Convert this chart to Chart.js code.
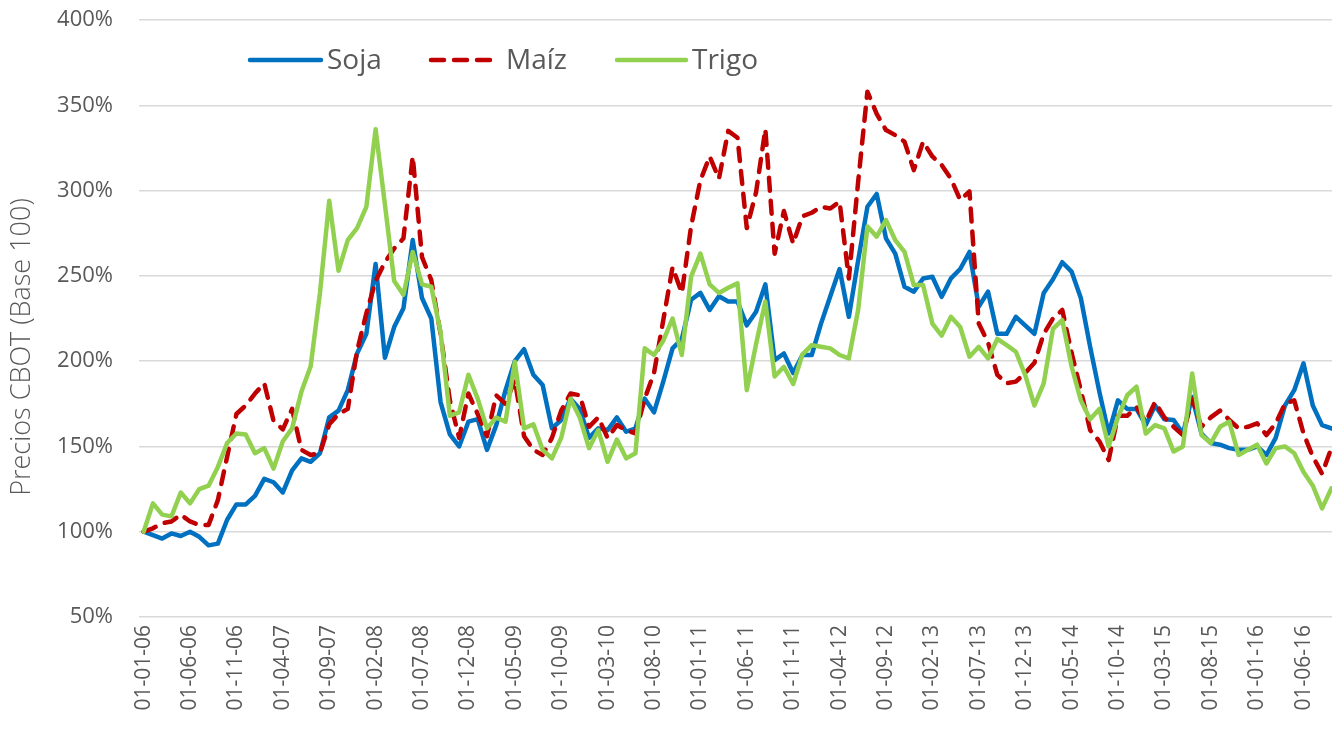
<!DOCTYPE html>
<html>
<head>
<meta charset="utf-8">
<script src="https://cdn.jsdelivr.net/npm/chart.js@4.4.0/dist/chart.umd.min.js"></script>
<style>
  html, body { margin: 0; padding: 0; overflow: hidden; background: #fff; }
  #wrap { position: relative; width: 1340px; height: 733px; }
  #legend { position: absolute; left: 0; top: 0; }
  #legend text { font-family: "Open Sans", sans-serif; font-size: 28px; fill: #595959; }
</style>
</head>
<body>
<div id="wrap">
  <canvas id="chart" width="1340" height="733"></canvas>
  <svg id="legend" width="800" height="100">
    <line x1="250" y1="60" x2="321" y2="60" stroke="#0070C0" stroke-width="4.5" stroke-linecap="round"/>
    <text x="327" y="69">Soja</text>
    <line x1="431" y1="60" x2="492" y2="60" stroke="#C00000" stroke-width="4.5" stroke-linecap="round" stroke-dasharray="13 10"/>
    <text x="506" y="69">Maíz</text>
    <line x1="617" y1="60" x2="686" y2="60" stroke="#92D050" stroke-width="4.5" stroke-linecap="round"/>
    <text x="692" y="69">Trigo</text>
  </svg>
</div>
<script>
// precios CBOT, base 100 = enero 2006, datos mensuales
const soja = [100, 98, 96, 99, 97.5, 100, 97, 92, 93, 107, 116, 116, 121, 131, 129, 123, 136, 143, 141, 146,
  167, 171, 183, 204.5, 216, 257, 202, 220, 231, 271, 237, 225, 176, 157, 150, 164.5, 166, 148, 162.5, 183,
  200, 207, 192, 186, 160.6, 165.5, 178, 172, 155, 160.6, 159.6, 167, 158.6, 160.6, 178, 170, 188, 207.5, 213, 236,
  240, 230, 238, 235, 235, 221, 229, 245, 200.6, 204.5, 193, 203.6, 203.6, 222, 238, 254, 226, 259, 290.5, 298,
  272, 263, 243.6, 240.7, 248.5, 249.5, 237.7, 248.5, 254, 264, 232, 240.7, 216, 216, 226, 221, 216, 240, 248, 258,
  252.5, 237, 208.5, 182, 157.6, 177, 172, 172, 162.5, 174, 166, 165.5, 157.6, 179, 157.6, 152, 151, 149, 148, 148,
  150, 145, 155, 174, 183, 198.7, 174, 162.5, 160.6];

const maiz = [100, 102, 105, 106, 110, 106, 104, 104, 118.5, 144, 169, 174, 181, 187, 165, 160, 172, 148, 145, 146,
  163, 169, 172, 206, 228, 247, 258, 266, 272, 320, 261, 247.5, 216, 177, 155, 181, 169, 156, 180, 175,
  189, 156, 148, 145, 155, 171, 181, 180, 161.5, 167, 155, 162.5, 159.6, 157.6, 178, 193, 224, 255, 240, 279,
  306, 320, 307, 335, 331, 278, 299, 336, 263, 288, 269, 285, 287, 290.5, 289.5, 293.5, 248.5, 305, 358, 345,
  335.5, 332.5, 328.6, 312, 328.6, 320, 315, 307, 294.5, 299.5, 222, 211, 192, 187, 188, 193, 199, 216, 225, 230,
  205, 183, 159.6, 153, 142, 168, 168, 173, 164.5, 176, 167, 161.5, 156.7, 178, 161.5, 167, 171, 165.5, 160.6, 161.5,
  163.5, 156.7, 163.5, 175, 177, 157.6, 144, 134, 149];

const trigo = [100, 116.6, 110, 109, 123, 116.6, 125, 127, 138, 152, 157.6, 157, 146, 149, 137, 153, 160.6, 182, 197, 240,
  294, 253, 271, 278, 290.5, 336, 292, 247, 239, 264, 245, 243.6, 217, 168, 170, 192, 178, 160.6, 167, 164.5,
  199.6, 160.6, 163, 148, 143, 155, 178, 167, 149, 159.6, 141, 154, 143, 146, 207.5, 203.6, 212, 225, 203.6, 249.5,
  263, 245, 240, 243, 245.6, 183, 210, 235, 191, 196.7, 186.6, 204, 209.4, 208.4, 207.5, 203.6, 201.6, 230, 279, 273,
  282.7, 271, 264, 244.6, 244.6, 222, 215, 226, 220, 202.6, 208.4, 201.6, 213, 209.4, 205.5, 192, 174, 187, 219, 224,
  197, 177, 166, 172, 150, 167, 180, 185, 157.6, 162.5, 160.6, 147, 150, 192.8, 156.7, 152, 161.5, 164.5, 145, 148,
  151, 140, 149, 150, 146, 135, 127, 113.7, 125.4];

// fechas dd-mm-aa, una por mes desde enero 2006
const fechas = [];
for (let i = 0; i < soja.length; i++) {
  const mes = String(i % 12 + 1).padStart(2, '0');
  const anio = String(6 + Math.floor(i / 12)).padStart(2, '0');
  fechas.push('01-' + mes + '-' + anio);
}

const yTicks = [50, 100, 150, 200, 250, 300, 350, 400];
const tituloEjeY = 'Precios CBOT (Base 100)';

const tituloY = {
  id: 'tituloY',
  afterDraw(chart) {
    const c = chart.ctx;
    c.save();
    c.translate(22, 347);
    c.rotate(-Math.PI / 2);
    c.font = '300 27px "Open Sans"';
    c.fillStyle = '#595959';
    c.textAlign = 'center';
    c.textBaseline = 'middle';
    c.fillText(tituloEjeY, 0, 0);
    c.restore();
  }
};

const CHART = document.getElementById('chart');
let lineChart = new Chart(CHART, {
  type: 'line',
  data: {
    labels: fechas,
    datasets: [
      {
        label: 'Soja',
        data: soja,
        borderColor: '#0070C0',
        borderWidth: 4.5,
        borderCapStyle: 'round',
        borderJoinStyle: 'round',
        pointRadius: 0,
        fill: false,
        tension: 0,
        order: 3
      },
      {
        label: 'Maíz',
        data: maiz,
        borderColor: '#C00000',
        borderWidth: 4.5,
        borderDash: [13, 10],
        borderCapStyle: 'round',
        borderJoinStyle: 'round',
        pointRadius: 0,
        fill: false,
        tension: 0,
        order: 2
      },
      {
        label: 'Trigo',
        data: trigo,
        borderColor: '#92D050',
        borderWidth: 4.5,
        borderCapStyle: 'round',
        borderJoinStyle: 'round',
        pointRadius: 0,
        fill: false,
        tension: 0,
        order: 1
      }
    ]
  },
  options: {
    responsive: false,
    animation: false,
    layout: { padding: { top: 20, right: 4, left: 0, bottom: 0 } },
    plugins: {
      legend: { display: false },
      tooltip: { enabled: false }
    },
    scales: {
      x: {
        offset: true,
        grid: { display: false, drawTicks: false },
        border: { display: false },
        ticks: {
          autoSkip: false,
          minRotation: 90,
          maxRotation: 90,
          padding: 8,
          color: '#595959',
          font: { family: 'Open Sans', size: 21 },
          callback: function (v, i) { return i % 5 === 0 ? this.getLabelForValue(v) : null; }
        },
        afterFit: (s) => { s.height = 116; }
      },
      y: {
        min: yTicks[0],
        max: yTicks[yTicks.length - 1],
        grid: { color: '#D9D9D9', lineWidth: 1.5, drawTicks: false },
        border: { display: false },
        ticks: {
          stepSize: 50,
          padding: 26,
          color: '#595959',
          font: { family: 'Open Sans', size: 22 },
          callback: (v) => v + '%'
        },
        afterFit: (s) => {
          s.width = 139;
          s.paddingTop = 14;
          s.paddingBottom = 0;
        }
      }
    }
  },
  plugins: [tituloY]
});
</script>
</body>
</html>
